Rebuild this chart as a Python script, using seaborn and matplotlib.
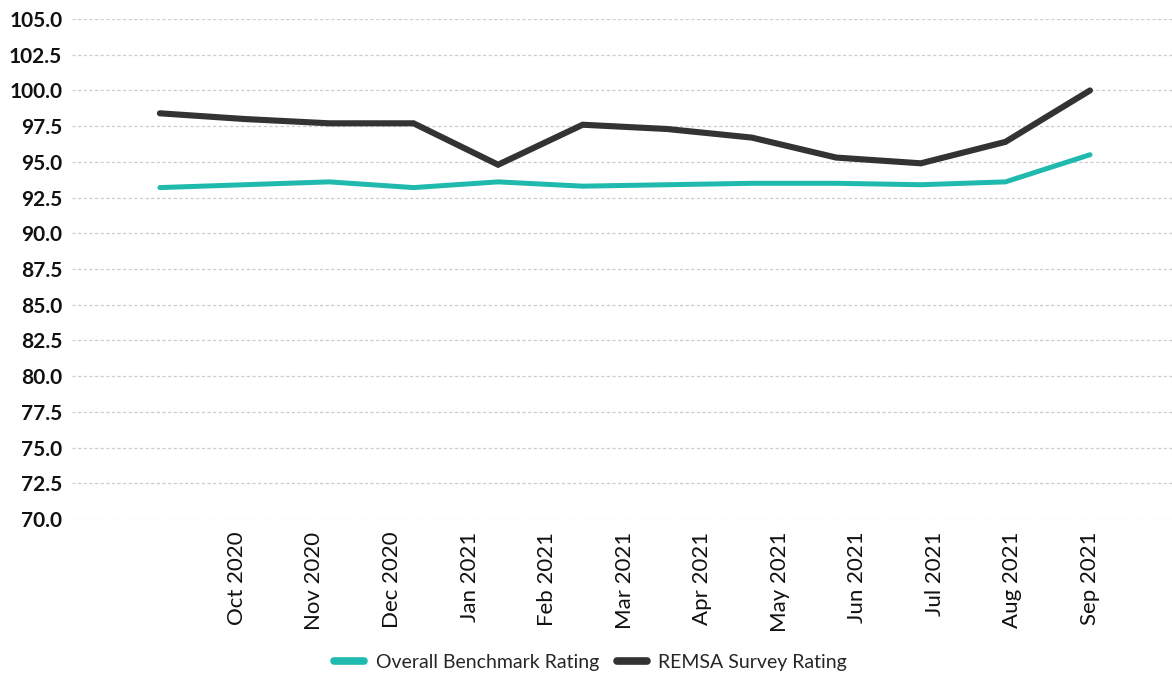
import numpy as np
import pandas as pd
import matplotlib
matplotlib.use("Agg")
import matplotlib.pyplot as plt
import seaborn as sns

# Monthly ratings, Sep 2020 .. Sep 2021
months = ["Sep 2020", "Oct 2020", "Nov 2020", "Dec 2020", "Jan 2021", "Feb 2021",
          "Mar 2021", "Apr 2021", "May 2021", "Jun 2021", "Jul 2021", "Aug 2021",
          "Sep 2021"]
benchmark = [93.2, 93.4, 93.6, 93.2, 93.6, 93.3, 93.4, 93.5, 93.5, 93.4, 93.6, 95.5]
remsa = [98.4, 98.0, 97.7, 97.7, 94.8, 97.6, 97.3, 96.7, 95.3, 94.9, 96.4, 100.0]
tick_labels = months[1:]
y_ticks = [70.0, 72.5, 75.0, 77.5, 80.0, 82.5, 85.0, 87.5, 90.0, 92.5, 95.0,
           97.5, 100.0, 102.5, 105.0]

series_names = ["Overall Benchmark Rating", "REMSA Survey Rating"]
colors = {"Overall Benchmark Rating": "#20b9ad", "REMSA Survey Rating": "#333333"}
widths = {"Overall Benchmark Rating": 3.6, "REMSA Survey Rating": 4.4}

n = len(benchmark)
df = pd.DataFrame({
    "idx": list(range(n)) * 2,
    "rating": benchmark + remsa,
    "series": [series_names[0]] * n + [series_names[1]] * n,
})

sns.set_theme(style="white")
plt.rcParams["font.family"] = ["Lato", "DejaVu Sans"]

fig = plt.figure(figsize=(11.72, 6.79), dpi=100)
ax = fig.add_axes([0.0614, 0.2356, 0.9386, 0.7364])

sns.lineplot(data=df, x="idx", y="rating", hue="series", palette=colors,
             hue_order=series_names, linewidth=4.2, ax=ax, legend=False)
for line, name in zip(ax.get_lines(), series_names):
    line.set_linewidth(widths[name])
    line.set_solid_joinstyle("miter")

ax.set_xlim(-1.04, 11.97)
ax.set_ylim(70, 105)
ax.set_yticks(y_ticks)
ax.set_yticklabels([f"{v:.1f}" for v in y_ticks], fontsize=15,
                   fontweight="bold", color="#111111")
ax.yaxis.grid(True, color="#cccccc", linestyle=(0, (2.5, 2)), linewidth=0.9)
ax.xaxis.grid(False)

# month labels sit on their own evenly spaced ticks
tick_pos = np.linspace(0.91, 11.0, len(tick_labels))
ax.set_xticks(tick_pos)
ax.set_xticklabels(tick_labels, rotation=90, fontsize=16, color="#111111")
ax.tick_params(axis="both", length=0)
ax.tick_params(axis="x", pad=9)
ax.tick_params(axis="y", pad=7)
ax.set_xlabel("")
ax.set_ylabel("")
for s in ax.spines.values():
    s.set_visible(False)

handles = [plt.Line2D([], [], color=colors[s], linewidth=5.5, solid_capstyle="round")
           for s in series_names]
fig.legend(handles, series_names, loc="center", bbox_to_anchor=(0.504, 0.024),
           ncol=2, frameon=False, fontsize=14, handlelength=1.55,
           columnspacing=0.9, handletextpad=0.6)

fig.savefig("out.png", dpi=100)
